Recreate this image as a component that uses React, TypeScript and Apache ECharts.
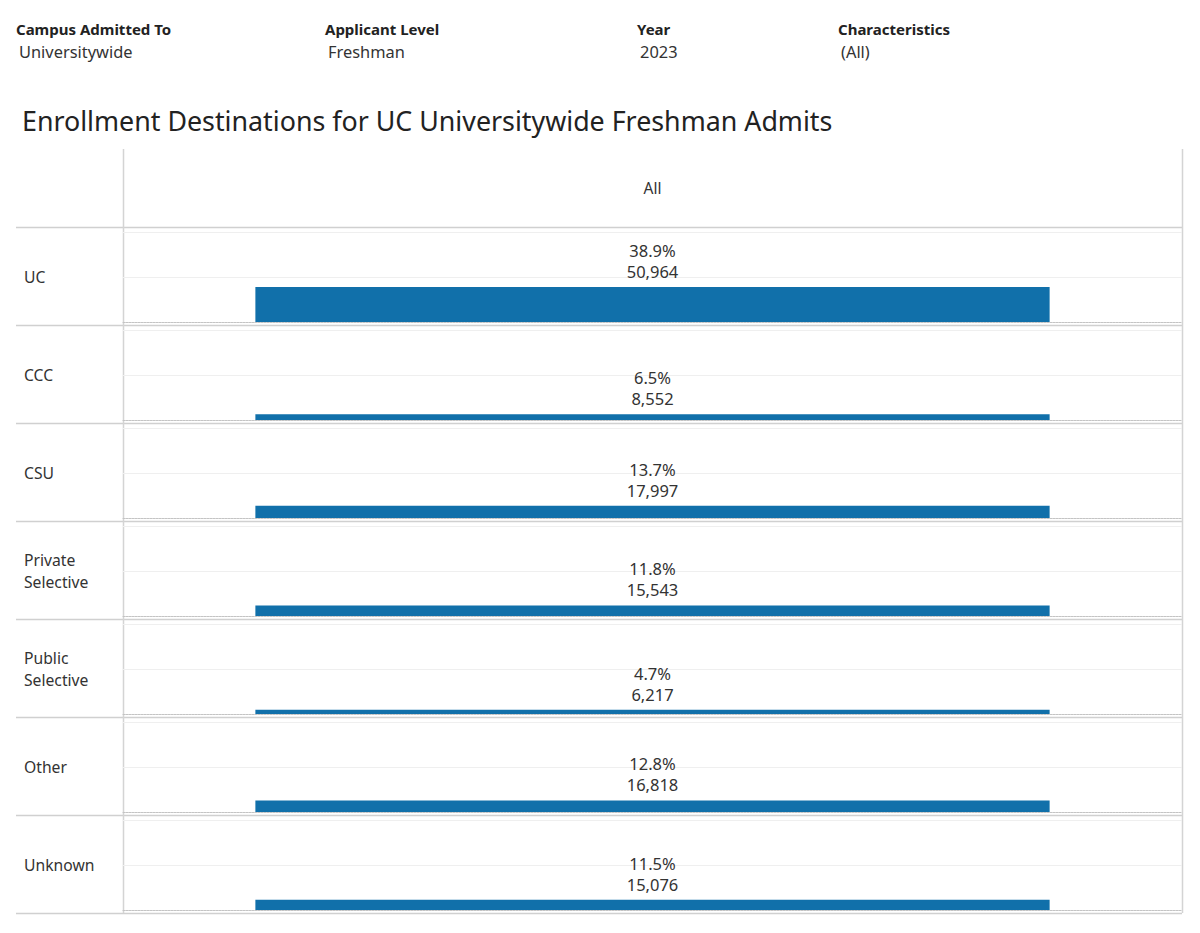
import React, { useEffect, useRef } from "react";
import * as echarts from "echarts";

const categories = ["UC", "CCC", "CSU", "Private\nSelective", "Public\nSelective", "Other", "Unknown"];
const percents = [38.9, 6.5, 13.7, 11.8, 4.7, 12.8, 11.5];
const counts = [50964, 8552, 17997, 15543, 6217, 16818, 15076];
const columnLabel = "All";
const filters = [
  { label: "Campus Admitted To", value: "Universitywide", x: 16 },
  { label: "Applicant Level", value: "Freshman", x: 325 },
  { label: "Year", value: "2023", x: 637 },
  { label: "Characteristics", value: "(All)", x: 838 },
];
const titleText = "Enrollment Destinations for UC Universitywide Freshman Admits";

const FONT = "'Noto Sans', sans-serif";
const TEXT = "#333333";
const BAR = "#1170aa";

export default function App() {
  const ref = useRef<HTMLDivElement>(null);
  useEffect(() => {
    document.body.style.margin = "0";
    const chart = echarts.init(ref.current!, null, { renderer: "svg" });
    const rowTop = 227;
    const rowH = 98;
    const gridLeft = 123;
    const gridRight = 1182;
    const n = categories.length;

    const grids: any[] = [];
    const xAxes: any[] = [];
    const yAxes: any[] = [];
    const series: any[] = [];
    const graphics: any[] = [];

    for (let i = 0; i < n; i++) {
      grids.push({ left: gridLeft, width: gridRight - gridLeft, top: rowTop + rowH * i + 5, height: 90 });
      xAxes.push({
        type: "category",
        gridIndex: i,
        data: [columnLabel],
        axisTick: { show: false },
        axisLabel: { show: false },
        axisLine: { show: true, lineStyle: { color: "#c4c4c4", type: [2, 1], width: 1 } },
      });
      yAxes.push({
        type: "value",
        gridIndex: i,
        min: 0,
        max: 100,
        interval: 50,
        axisLabel: { show: false },
        axisLine: { show: false },
        axisTick: { show: false },
        splitLine: { show: true, lineStyle: { color: "#efefef", width: 1 } },
      });
      series.push({
        type: "bar",
        xAxisIndex: i,
        yAxisIndex: i,
        barWidth: "75%",
        data: [percents[i]],
        itemStyle: { color: BAR },
        label: {
          show: true,
          position: "top",
          distance: 5,
          fontFamily: FONT,
          fontSize: 16.5,
          lineHeight: 21,
          color: TEXT,
          formatter: () => `${percents[i].toFixed(1)}%\n${counts[i].toLocaleString("en-US")}`,
        },
      });
      graphics.push({
        type: "text",
        style: {
          text: categories[i],
          x: 24,
          y: rowTop + rowH * i + rowH / 2 + 1,
          font: `15.7px ${FONT}`,
          fill: TEXT,
          textAlign: "left",
          textVerticalAlign: "middle",
          lineHeight: 22,
        },
      });
    }

    // row separator lines
    for (let i = 0; i <= n; i++) {
      const y = rowTop + rowH * i + 0.5;
      graphics.push({
        type: "line",
        shape: { x1: 16, y1: y, x2: gridRight, y2: y },
        style: { stroke: "#d0d0d0", lineWidth: 1.5 },
      });
    }
    // vertical lines
    graphics.push({
      type: "line",
      shape: { x1: gridLeft + 0.5, y1: 149, x2: gridLeft + 0.5, y2: rowTop + rowH * n },
      style: { stroke: "#d4d4d4", lineWidth: 1.5 },
    });
    graphics.push({
      type: "line",
      shape: { x1: gridRight + 0.5, y1: 149, x2: gridRight + 0.5, y2: rowTop + rowH * n },
      style: { stroke: "#d4d4d4", lineWidth: 1.5 },
    });
    // column header
    graphics.push({
      type: "text",
      style: {
        text: columnLabel,
        x: (gridLeft + gridRight) / 2,
        y: 188,
        font: `15.5px ${FONT}`,
        fill: TEXT,
        textAlign: "center",
        textVerticalAlign: "middle",
      },
    });
    // filters
    filters.forEach((f) => {
      graphics.push({
        type: "text",
        style: {
          text: f.label,
          x: f.x,
          y: 29,
          font: `bold 15px ${FONT}`,
          fill: "#222222",
          textAlign: "left",
          textVerticalAlign: "middle",
        },
      });
      graphics.push({
        type: "text",
        style: {
          text: f.value,
          x: f.x + 3,
          y: 51,
          font: `16.4px ${FONT}`,
          fill: TEXT,
          textAlign: "left",
          textVerticalAlign: "middle",
        },
      });
    });
    // title
    graphics.push({
      type: "text",
      style: {
        text: titleText,
        x: 22,
        y: 120,
        font: `26.8px ${FONT}`,
        fill: "#222222",
        textAlign: "left",
        textVerticalAlign: "middle",
      },
    });

    chart.setOption({
      animation: false,
      backgroundColor: "#ffffff",
      grid: grids,
      xAxis: xAxes,
      yAxis: yAxes,
      series,
      graphic: graphics,
    });
    return () => chart.dispose();
  }, []);
  return <div ref={ref} style={{ width: 1200, height: 933 }} />;
}
